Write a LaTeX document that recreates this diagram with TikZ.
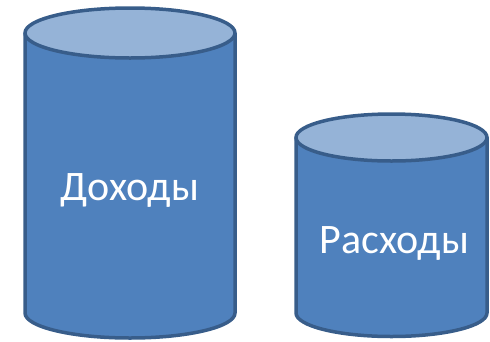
\documentclass[tikz,border=0pt]{standalone}
\usepackage{fontspec}
\setmainfont{Carlito}
\usetikzlibrary{positioning}
\definecolor{bodyblue}{HTML}{4F81BD}
\definecolor{lidblue}{HTML}{95B3D7}
\definecolor{rimblue}{HTML}{385D8A}
\begin{document}
\begin{tikzpicture}[x=1pt,y=-1pt,line width=3.5pt,line join=round,
		body/.style={draw=rimblue,fill=bodyblue},
		lid/.style={draw=rimblue,fill=lidblue},
		label/.style={text=white,font=\fontsize{42}{50}\selectfont,anchor=base,inner sep=0pt}]
		\useasboundingbox (0,0) rectangle (490,341);
		% income barrel
		\draw[body] (25,33) -- (25,313) arc[start angle=180,end angle=0,x radius=105,y radius=25] -- (235,33) -- cycle;
		\draw[lid] (130,33) ellipse[x radius=105,y radius=25];
		% expense barrel
		\draw[body] (296,137.5) -- (296,313) arc[start angle=180,end angle=0,x radius=95.5,y radius=23.5] -- (487,137.5) -- cycle;
		\draw[lid] (391.5,137.5) ellipse[x radius=95.5,y radius=23.5];
		\node[label] (inc) at (130,200) {Доходы};
		\node[label] (exp) at (394.5,253) {Расходы};
	\end{tikzpicture}
\end{document}
